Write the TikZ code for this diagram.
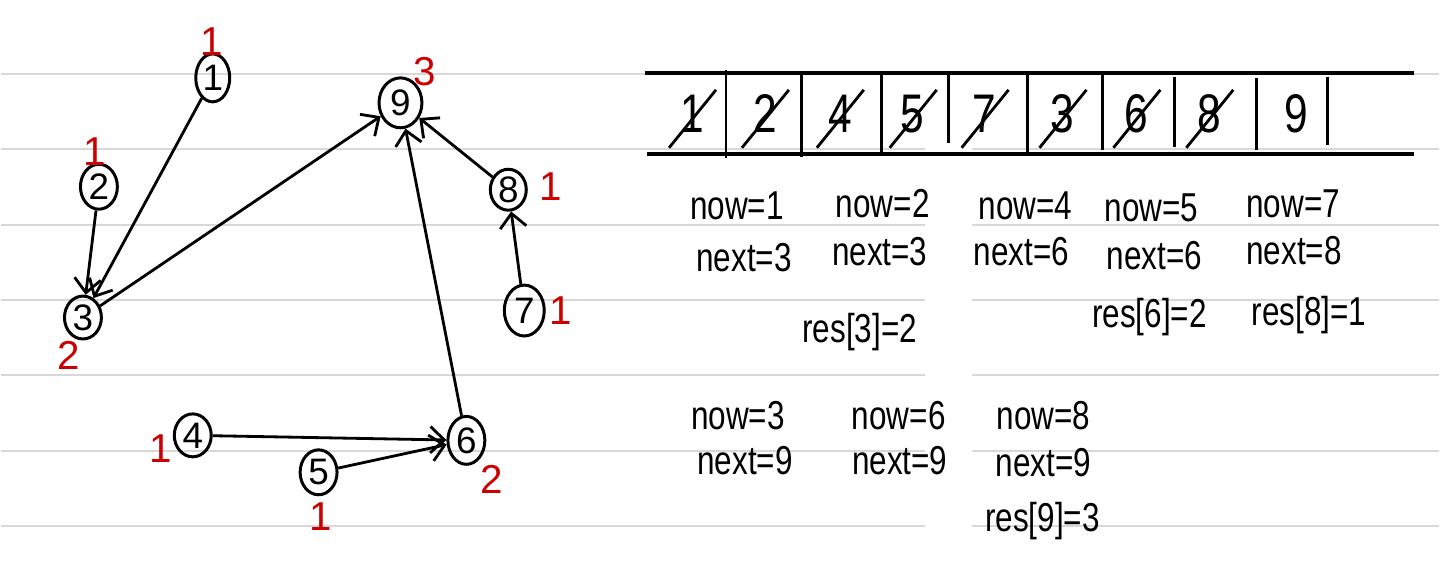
\documentclass[tikz,border=0pt]{standalone}
\usepackage{fontspec}
\setmainfont{Liberation Sans}
\usetikzlibrary{arrows.meta,shapes.geometric}
\definecolor{penred}{RGB}{204,0,0}
\definecolor{rulegray}{RGB}{216,216,216}
\newcommand{\hand}[1]{\scalebox{0.78}[1]{#1}}

\begin{document}
\begin{tikzpicture}[
  x = 0.02cm, y = -0.02cm,
  vertex/.style = {draw, ellipse, line width = 1.7pt, minimum width = 0.74cm,
                   minimum height = 0.9cm, inner sep = 0pt,
                   font = \fontsize{21}{21}\selectfont},
  count/.style = {text = penred, font = \fontsize{23}{23}\selectfont},
  edge/.style = {line width = 1.6pt, -{Straight Barb[length = 8pt, width = 15pt]}},
  rule/.style = {rulegray, line width = 1.2pt},
  bar/.style = {line width = 2.2pt},
  cell/.style = {font = \fontsize{31}{31}\selectfont, inner sep = 0pt},
  strike/.style = {line width = 1.6pt},
  note/.style = {font = \fontsize{23}{23}\selectfont, inner sep = 1pt},
  ]
  \fill[white] (0,0) rectangle (1440,563);
  % ruled paper
  \draw[rule] (0,74) -- (1440,74);
  \foreach \y in {149,225,300,376,452,527} {
    \draw[rule] (0,\y) -- (925,\y);
    \draw[rule] (972,\y) -- (1440,\y);
  }

  % graph
  \node[vertex, minimum width = 0.68cm, minimum height = 0.96cm] (n1) at (212,78) {1};
  \node[vertex] (n2) at (98,187) {2};
  \node[vertex, minimum height = 0.86cm] (n3) at (82,318) {3};
  \node[vertex, minimum width = 0.86cm, minimum height = 1.0cm] (n9) at (400,103) {9};
  \node[vertex, minimum width = 0.72cm, minimum height = 0.82cm] (n8) at (508,190) {8};
  \node[vertex, minimum width = 0.8cm, minimum height = 1.02cm] (n7) at (524,311) {7};
  \node[vertex, minimum height = 0.86cm] (n4) at (192,436) {4};
  \node[vertex] (n5) at (318,473) {5};
  \node[vertex, minimum height = 0.96cm] (n6) at (466,441) {6};

  \node[count] (r1) at (211,42) {1};
  \node[count] (r2) at (94,152) {1};
  \node[count] (r3) at (68,356) {2};
  \node[count] (r9) at (424,72) {3};
  \node[count] (r8) at (550,187) {1};
  \node[count] (r7) at (560,311) {1};
  \node[count] (r4) at (160,449) {1};
  \node[count] (r5) at (320,517) {1};
  \node[count] (r6) at (491,480) {2};

  \draw[edge] (n1) -- (n3);
  \draw[edge] (n2) -- (n3);
  \draw[edge] (n3) -- (n9);
  \draw[edge] (n8) -- (n9);
  \draw[edge] (n7) -- (n8);
  \draw[edge] (n4) -- (n6);
  \draw[edge] (n5) -- (n6);
  \draw[edge] (n6) -- (n9);

  % queue
  \draw[bar] (645,73) -- (1415,73);
  \draw[bar] (647,154) -- (1415,154);
  \foreach \x/\a/\b in {726/70/158, 802/75/157, 882/75/152, 949/75/143, 1028/75/152,
                        1103/75/150, 1175/77/147, 1257/78/150, 1328/77/145}
    \draw[strike] (\x,\a) -- (\x,\b);
  \foreach \x/\d in {692/1, 765/2, 840/4, 913/5, 985/7, 1063/3, 1137/6, 1210/8} {
    \node[cell] (q\d) at (\x,114) {\hand{\d}};
    \draw[strike] ([shift={(-23,34)}]q\d.center) -- ([shift={(24,-24)}]q\d.center);
  }
  \node[cell] (q9) at (1297,114) {\hand{9}};

  % trace
  \node[note] (a1) at (737,206) {\hand{now=1}};
  \node[note] (b1) at (744,258) {\hand{next=3}};
  \node[note] (a2) at (883,204) {\hand{now=2}};
  \node[note] (b2) at (880,252) {\hand{next=3}};
  \node[note] (a4) at (1026,206) {\hand{now=4}};
  \node[note] (b4) at (1022,252) {\hand{next=6}};
  \node[note] (a5) at (1152,208) {\hand{now=5}};
  \node[note] (b5) at (1155,256) {\hand{next=6}};
  \node[note] (a7) at (1294,204) {\hand{now=7}};
  \node[note] (b7) at (1295,251) {\hand{next=8}};
  \node[note] (s3) at (860,333) {\hand{res[3]=2}};
  \node[note] (s6) at (1150,318) {\hand{res[6]=2}};
  \node[note] (s8) at (1310,316) {\hand{res[8]=1}};
  \node[note] (a3) at (738,416) {\hand{now=3}};
  \node[note] (b3) at (745,461) {\hand{next=9}};
  \node[note] (a6) at (899,416) {\hand{now=6}};
  \node[note] (b6) at (900,461) {\hand{next=9}};
  \node[note] (a8) at (1044,416) {\hand{now=8}};
  \node[note] (b8) at (1044,463) {\hand{next=9}};
  \node[note] (s9) at (1043,522) {\hand{res[9]=3}};
\end{tikzpicture}
\end{document}
